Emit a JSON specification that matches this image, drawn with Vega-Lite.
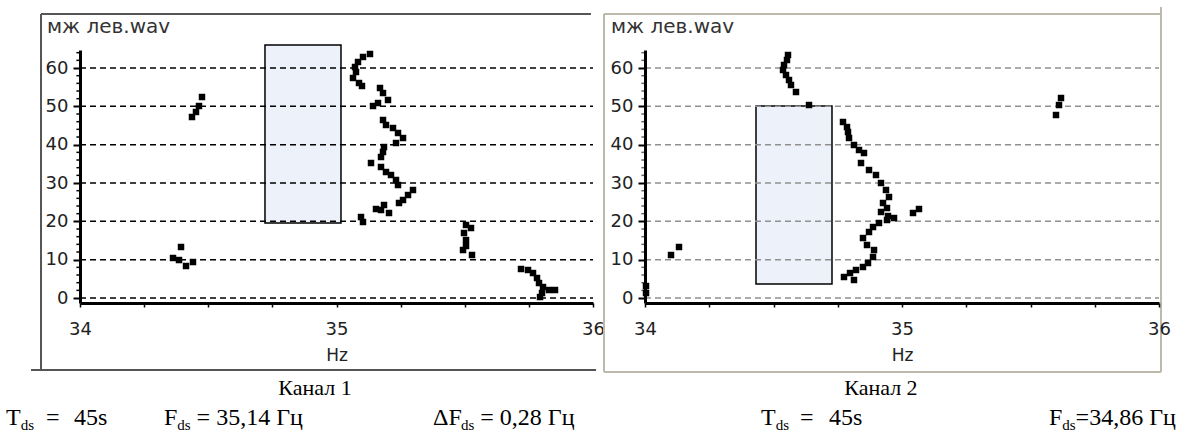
{
"$schema":"https://vega.github.io/schema/vega-lite/v6.json",
"background":"white",
"padding":{"left":5,"top":6,"right":5,"bottom":4},
"autosize":{"type":"pad"},
"bounds":"flush",
"spacing":52,
"config":{"view":{"stroke":null}},
"datasets":{
"ptsL":[{"x":35.1306,"y":63.66},{"x":35.1033,"y":62.88},{"x":35.0838,"y":61.57},{"x":35.0721,"y":60.27},{"x":35.076,"y":58.96},{"x":35.0643,"y":57.4},{"x":35.0877,"y":56.09},{"x":35.0994,"y":55.31},
{"x":35.1696,"y":54.79},{"x":35.1813,"y":53.48},{"x":35.2008,"y":51.66},{"x":35.1618,"y":50.87},{"x":35.1423,"y":50.09},
{"x":35.1813,"y":46.44},{"x":35.193,"y":45.14},{"x":35.2203,"y":44.35},{"x":35.2398,"y":43.05},{"x":35.2593,"y":41.74},{"x":35.232,"y":40.44},{"x":35.1852,"y":39.39},{"x":35.1813,"y":38.09},{"x":35.1735,"y":36.79},{"x":35.1345,"y":35.22},{"x":35.1735,"y":34.18},{"x":35.193,"y":32.87},{"x":35.2125,"y":32.09},{"x":35.232,"y":30.79},{"x":35.2398,"y":29.48},
{"x":35.2982,"y":28.18},{"x":35.2788,"y":26.87},{"x":35.2593,"y":25.57},{"x":35.2437,"y":24.79},{"x":35.1852,"y":24.26},{"x":35.1735,"y":22.96},{"x":35.154,"y":23.22},{"x":35.2047,"y":22.18},{"x":35.0955,"y":21.13},{"x":35.1033,"y":19.83},
{"x":34.4756,"y":52.44},{"x":34.4639,"y":50.09},{"x":34.4522,"y":48.53},{"x":34.4366,"y":47.22},
{"x":34.3938,"y":13.31},{"x":34.3626,"y":10.44},{"x":34.386,"y":9.91},{"x":34.4133,"y":8.35},{"x":34.4405,"y":9.39},
{"x":35.5049,"y":19.05},{"x":35.5244,"y":18.26},{"x":35.4971,"y":16.96},{"x":35.5049,"y":15.13},{"x":35.5049,"y":13.57},{"x":35.4932,"y":12.52},{"x":35.5283,"y":11.22},
{"x":35.7193,"y":7.57},{"x":35.7466,"y":7.31},{"x":35.7661,"y":6.52},{"x":35.7817,"y":5.22},{"x":35.7895,"y":3.91},{"x":35.8051,"y":2.87},{"x":35.8285,"y":2.09},{"x":35.8519,"y":2.09},{"x":35.8012,"y":1.3},{"x":35.7934,"y":0.26}],
"ptsR":[{"x":34.5564,"y":63.4},{"x":34.5525,"y":62.09},{"x":34.5409,"y":60.79},{"x":34.537,"y":59.48},{"x":34.5486,"y":58.18},{"x":34.5603,"y":56.87},{"x":34.5681,"y":55.57},{"x":34.5875,"y":53.74},{"x":34.6381,"y":50.35},
{"x":34.7704,"y":45.92},{"x":34.786,"y":44.61},{"x":34.7899,"y":43.31},{"x":34.7938,"y":41.74},{"x":34.8132,"y":39.92},{"x":34.8327,"y":38.61},{"x":34.8521,"y":37.83},{"x":34.8405,"y":35.22},{"x":34.8716,"y":33.39},{"x":34.8988,"y":32.09},{"x":34.9183,"y":30.0},{"x":34.9377,"y":28.18},{"x":34.9494,"y":26.35},{"x":34.9261,"y":24.79},{"x":34.9416,"y":23.48},{"x":34.9183,"y":22.44},{"x":34.9455,"y":21.39},{"x":34.9689,"y":20.87},
{"x":34.9416,"y":20.35},{"x":34.9105,"y":19.57},{"x":34.8872,"y":18.52},{"x":34.8716,"y":17.22},{"x":34.8482,"y":15.65},{"x":34.8638,"y":13.83},{"x":34.8911,"y":12.52},{"x":34.8872,"y":10.7},{"x":34.8677,"y":9.13},{"x":34.8482,"y":8.09},{"x":34.821,"y":7.31},{"x":34.7977,"y":6.52},{"x":34.7743,"y":5.48},{"x":34.8132,"y":4.7},
{"x":35.0661,"y":23.22},{"x":35.0428,"y":22.18},{"x":35.6187,"y":52.18},{"x":35.6109,"y":50.35},{"x":35.5992,"y":47.74},{"x":34.1012,"y":11.22},{"x":34.1323,"y":13.31},{"x":34.0039,"y":3.13},{"x":34.0039,"y":1.3}],
"gridY":[{"y":0},{"y":10},{"y":20},{"y":30},{"y":40},{"y":50},{"y":60}],
"minorY":[{"y":2},{"y":4},{"y":6},{"y":8},{"y":12},{"y":14},{"y":16},{"y":18},{"y":22},{"y":24},{"y":26},{"y":28},{"y":32},{"y":34},{"y":36},{"y":38},{"y":42},{"y":44},{"y":46},{"y":48},{"y":52},{"y":54},{"y":56},{"y":58},{"y":62},{"y":64}],
"frameL":[{"x1":33.848,"x2":35.992,"y1":74.09,"y2":74.09},{"x1":33.848,"x2":33.848,"y1":74.09,"y2":-18.78},{"x1":33.809,"x2":36.012,"y1":-18.78,"y2":-18.78}],
"frameR":[{"x1":33.8405,"x2":36.0078,"y1":74.09,"y2":74.09},{"x1":33.8405,"x2":33.8405,"y1":74.09,"y2":-19.31},{"x1":36.0078,"x2":36.0078,"y1":75.9,"y2":-19.31},{"x1":33.8405,"x2":36.0078,"y1":-19.31,"y2":-19.31}],
"rectL":[{"x1":34.7212,"x2":35.0175,"y1":19.57,"y2":66.0}],
"rectR":[{"x1":34.4319,"x2":34.7276,"y1":3.65,"y2":50.09}],
"ttlL":[{"x":33.8713,"y":69.1,"t":"мж лев.wav"}],
"ttlR":[{"x":33.8677,"y":69.1,"t":"мж лев.wav"}],
"txtL":[{"x":33.7115,"y":-33.1,"t":"T"},{"x":33.8675,"y":-33.1,"t":"="},{"x":33.9766,"y":-33.1,"t":"45s"},{"x":34.3275,"y":-33.1,"t":"F"},{"x":34.4546,"y":-33.1,"t":"= 35,14 Гц"},{"x":35.376,"y":-33.1,"t":"ΔF"},{"x":35.5606,"y":-33.1,"t":"= 0,28 Гц"}],
"subL":[{"x":33.7688,"y":-33.1,"t":"ds"},{"x":34.3793,"y":-33.1,"t":"ds"},{"x":35.4854,"y":-33.1,"t":"ds"}],
"capL":[{"x":34.916,"y":-25.3,"t":"Канал 1"}],
"txtR":[{"x":34.4514,"y":-33.1,"t":"T"},{"x":34.6031,"y":-33.1,"t":"="},{"x":34.7159,"y":-33.1,"t":"45s"},{"x":35.572,"y":-33.1,"t":"F"},{"x":35.6755,"y":-33.1,"t":"=34,86 Гц"}],
"subR":[{"x":34.5086,"y":-33.1,"t":"ds"},{"x":35.6237,"y":-33.1,"t":"ds"}],
"capR":[{"x":34.918,"y":-25.3,"t":"Канал 2"}]
},
"hconcat":[
{"width":513,"height":253,
"layer":[
{"data":{"name":"frameL"},"mark":{"type":"rule","color":"#555555","strokeWidth":2,"clip":false},
"encoding":{
"x":{"field":"x1","type":"quantitative","scale":{"domain":[34,36],"nice":false,"zero":false},
"axis":{"values":[34,34.25,34.5,34.75,35,35.25,35.5,35.75,36],"labelExpr":"datum.value % 1 == 0 ? format(datum.value, 'd') : ''","grid":false,"zindex":1,"domainColor":"#000000","domainWidth":3,"tickColor":"#000000","tickWidth":1.5,"tickSize":4,"labelFont":"DejaVu Sans","labelFontSize":18,"labelColor":"#222222","labelPadding":13,"labelFlush":false,"labelOverlap":false,"title":"Hz","titleFont":"DejaVu Sans","titleFontSize":17,"titleFontWeight":"normal","titleColor":"#222222","titlePadding":9}},
"x2":{"field":"x2"},
"y":{"field":"y1","type":"quantitative","scale":{"domain":[-1.3,64.7],"nice":false,"zero":false},
"axis":{"values":[0,10,20,30,40,50,60],"grid":false,"zindex":1,"domainColor":"#000000","domainWidth":3,"tickColor":"#000000","tickWidth":2,"tickSize":7,"labelFont":"DejaVu Sans","labelFontSize":18,"labelColor":"#222222","labelPadding":5,"title":null}},
"y2":{"field":"y2"}}},
{"mark":{"type":"rule","color":"#000000","strokeWidth":2.5,"clip":false},
"encoding":{"x":{"datum":36.012,"type":"quantitative","scale":{"domain":[34,36],"nice":false,"zero":false}},"y":{"datum":75.9,"type":"quantitative","scale":{"domain":[-1.3,64.7],"nice":false,"zero":false}},"y2":{"datum":-20.3}}},
{"data":{"name":"rectL"},"mark":{"type":"rect","fill":"#edf1fa","stroke":"#000000","strokeWidth":1.5,"clip":false},
"encoding":{"x":{"field":"x1","type":"quantitative","scale":{"domain":[34,36],"nice":false,"zero":false}},"x2":{"field":"x2"},"y":{"field":"y1","type":"quantitative","scale":{"domain":[-1.3,64.7],"nice":false,"zero":false}},"y2":{"field":"y2"}}},
{"data":{"name":"gridY"},"mark":{"type":"rule","color":"#000000","strokeWidth":1.5,"strokeDash":[6,4],"clip":false},
"encoding":{"x":{"datum":34,"type":"quantitative","scale":{"domain":[34,36],"nice":false,"zero":false}},"x2":{"datum":36},"y":{"field":"y","type":"quantitative","scale":{"domain":[-1.3,64.7],"nice":false,"zero":false}}}},
{"mark":{"type":"rule","color":"#000000","strokeWidth":1.5,"strokeDash":[6,4],"clip":false},
"encoding":{"x":{"datum":35,"type":"quantitative","scale":{"domain":[34,36],"nice":false,"zero":false}},"y":{"datum":-1.3,"type":"quantitative","scale":{"domain":[-1.3,64.7],"nice":false,"zero":false}},"y2":{"datum":64.7}}},
{"mark":{"type":"rule","color":"#777777","strokeWidth":2,"clip":false},
"encoding":{"x":{"datum":34,"type":"quantitative","scale":{"domain":[34,36],"nice":false,"zero":false}},"x2":{"datum":36},"y":{"datum":64.7,"type":"quantitative","scale":{"domain":[-1.3,64.7],"nice":false,"zero":false}}}},
{"mark":{"type":"rule","color":"#000000","strokeWidth":3,"clip":false},
"encoding":{"x":{"datum":36,"type":"quantitative","scale":{"domain":[34,36],"nice":false,"zero":false}},"y":{"datum":-1.3,"type":"quantitative","scale":{"domain":[-1.3,64.7],"nice":false,"zero":false}},"y2":{"datum":64.7}}},
{"data":{"name":"minorY"},"mark":{"type":"rule","color":"#000000","strokeWidth":1.5,"clip":false},
"encoding":{"x":{"datum":33.986,"type":"quantitative","scale":{"domain":[34,36],"nice":false,"zero":false}},"x2":{"datum":34},"y":{"field":"y","type":"quantitative","scale":{"domain":[-1.3,64.7],"nice":false,"zero":false}}}},
{"data":{"name":"ptsL"},"mark":{"type":"point","shape":"square","size":42,"filled":true,"color":"#000000","opacity":1,"clip":false},
"encoding":{"x":{"field":"x","type":"quantitative","scale":{"domain":[34,36],"nice":false,"zero":false}},"y":{"field":"y","type":"quantitative","scale":{"domain":[-1.3,64.7],"nice":false,"zero":false}}}},
{"data":{"name":"ttlL"},"mark":{"type":"text","font":"DejaVu Sans","fontSize":20,"color":"#333333","align":"left","baseline":"alphabetic","clip":false},
"encoding":{"x":{"field":"x","type":"quantitative","scale":{"domain":[34,36],"nice":false,"zero":false}},"y":{"field":"y","type":"quantitative","scale":{"domain":[-1.3,64.7],"nice":false,"zero":false}},"text":{"field":"t"}}},
{"data":{"name":"txtL"},"mark":{"type":"text","font":"Liberation Serif","fontSize":24,"color":"#000000","align":"left","baseline":"alphabetic","clip":false},
"encoding":{"x":{"field":"x","type":"quantitative","scale":{"domain":[34,36],"nice":false,"zero":false}},"y":{"field":"y","type":"quantitative","scale":{"domain":[-1.3,64.7],"nice":false,"zero":false}},"text":{"field":"t"}}},
{"data":{"name":"subL"},"mark":{"type":"text","font":"Liberation Serif","fontSize":15,"dy":5,"color":"#000000","align":"left","baseline":"alphabetic","clip":false},
"encoding":{"x":{"field":"x","type":"quantitative","scale":{"domain":[34,36],"nice":false,"zero":false}},"y":{"field":"y","type":"quantitative","scale":{"domain":[-1.3,64.7],"nice":false,"zero":false}},"text":{"field":"t"}}},
{"data":{"name":"capL"},"mark":{"type":"text","font":"Liberation Serif","fontSize":22,"color":"#000000","align":"center","baseline":"alphabetic","clip":false},
"encoding":{"x":{"field":"x","type":"quantitative","scale":{"domain":[34,36],"nice":false,"zero":false}},"y":{"field":"y","type":"quantitative","scale":{"domain":[-1.3,64.7],"nice":false,"zero":false}},"text":{"field":"t"}}}
]},
{"width":514,"height":253,
"layer":[
{"data":{"name":"frameR"},"mark":{"type":"rule","color":"#bdb9ab","strokeWidth":2,"clip":false},
"encoding":{
"x":{"field":"x1","type":"quantitative","scale":{"domain":[34,36],"nice":false,"zero":false},
"axis":{"values":[34,34.25,34.5,34.75,35,35.25,35.5,35.75,36],"labelExpr":"datum.value % 1 == 0 ? format(datum.value, 'd') : ''","grid":false,"zindex":1,"domainColor":"#000000","domainWidth":3,"tickColor":"#000000","tickWidth":1.5,"tickSize":4,"labelFont":"DejaVu Sans","labelFontSize":18,"labelColor":"#222222","labelPadding":13,"labelFlush":false,"labelOverlap":false,"title":"Hz","titleFont":"DejaVu Sans","titleFontSize":17,"titleFontWeight":"normal","titleColor":"#222222","titlePadding":9}},
"x2":{"field":"x2"},
"y":{"field":"y1","type":"quantitative","scale":{"domain":[-1.3,64.7],"nice":false,"zero":false},
"axis":{"values":[0,10,20,30,40,50,60],"grid":false,"zindex":1,"domainColor":"#000000","domainWidth":3,"tickColor":"#000000","tickWidth":2,"tickSize":7,"labelFont":"DejaVu Sans","labelFontSize":18,"labelColor":"#222222","labelPadding":5,"title":null}},
"y2":{"field":"y2"}}},
{"data":{"name":"rectR"},"mark":{"type":"rect","fill":"#edf1fa","stroke":"#000000","strokeWidth":1.5,"clip":false},
"encoding":{"x":{"field":"x1","type":"quantitative","scale":{"domain":[34,36],"nice":false,"zero":false}},"x2":{"field":"x2"},"y":{"field":"y1","type":"quantitative","scale":{"domain":[-1.3,64.7],"nice":false,"zero":false}},"y2":{"field":"y2"}}},
{"data":{"name":"gridY"},"mark":{"type":"rule","color":"#909090","strokeWidth":1.5,"strokeDash":[6,4],"clip":false},
"encoding":{"x":{"datum":34,"type":"quantitative","scale":{"domain":[34,36],"nice":false,"zero":false}},"x2":{"datum":36},"y":{"field":"y","type":"quantitative","scale":{"domain":[-1.3,64.7],"nice":false,"zero":false}}}},
{"mark":{"type":"rule","color":"#909090","strokeWidth":1.5,"strokeDash":[6,4],"clip":false},
"encoding":{"x":{"datum":35,"type":"quantitative","scale":{"domain":[34,36],"nice":false,"zero":false}},"y":{"datum":-1.3,"type":"quantitative","scale":{"domain":[-1.3,64.7],"nice":false,"zero":false}},"y2":{"datum":64.7}}},
{"mark":{"type":"rule","color":"#444444","strokeWidth":2,"clip":false},
"encoding":{"x":{"datum":34,"type":"quantitative","scale":{"domain":[34,36],"nice":false,"zero":false}},"x2":{"datum":36},"y":{"datum":64.7,"type":"quantitative","scale":{"domain":[-1.3,64.7],"nice":false,"zero":false}}}},
{"mark":{"type":"rule","color":"#444444","strokeWidth":2,"strokeDash":[6,4],"clip":false},
"encoding":{"x":{"datum":36,"type":"quantitative","scale":{"domain":[34,36],"nice":false,"zero":false}},"y":{"datum":-1.3,"type":"quantitative","scale":{"domain":[-1.3,64.7],"nice":false,"zero":false}},"y2":{"datum":64.7}}},
{"data":{"name":"minorY"},"mark":{"type":"rule","color":"#666666","strokeWidth":1.5,"clip":false},
"encoding":{"x":{"datum":33.986,"type":"quantitative","scale":{"domain":[34,36],"nice":false,"zero":false}},"x2":{"datum":34},"y":{"field":"y","type":"quantitative","scale":{"domain":[-1.3,64.7],"nice":false,"zero":false}}}},
{"data":{"name":"ptsR"},"mark":{"type":"point","shape":"square","size":42,"filled":true,"color":"#000000","opacity":1,"clip":false},
"encoding":{"x":{"field":"x","type":"quantitative","scale":{"domain":[34,36],"nice":false,"zero":false}},"y":{"field":"y","type":"quantitative","scale":{"domain":[-1.3,64.7],"nice":false,"zero":false}}}},
{"data":{"name":"ttlR"},"mark":{"type":"text","font":"DejaVu Sans","fontSize":20,"color":"#333333","align":"left","baseline":"alphabetic","clip":false},
"encoding":{"x":{"field":"x","type":"quantitative","scale":{"domain":[34,36],"nice":false,"zero":false}},"y":{"field":"y","type":"quantitative","scale":{"domain":[-1.3,64.7],"nice":false,"zero":false}},"text":{"field":"t"}}},
{"data":{"name":"txtR"},"mark":{"type":"text","font":"Liberation Serif","fontSize":24,"color":"#000000","align":"left","baseline":"alphabetic","clip":false},
"encoding":{"x":{"field":"x","type":"quantitative","scale":{"domain":[34,36],"nice":false,"zero":false}},"y":{"field":"y","type":"quantitative","scale":{"domain":[-1.3,64.7],"nice":false,"zero":false}},"text":{"field":"t"}}},
{"data":{"name":"subR"},"mark":{"type":"text","font":"Liberation Serif","fontSize":15,"dy":5,"color":"#000000","align":"left","baseline":"alphabetic","clip":false},
"encoding":{"x":{"field":"x","type":"quantitative","scale":{"domain":[34,36],"nice":false,"zero":false}},"y":{"field":"y","type":"quantitative","scale":{"domain":[-1.3,64.7],"nice":false,"zero":false}},"text":{"field":"t"}}},
{"data":{"name":"capR"},"mark":{"type":"text","font":"Liberation Serif","fontSize":22,"color":"#000000","align":"center","baseline":"alphabetic","clip":false},
"encoding":{"x":{"field":"x","type":"quantitative","scale":{"domain":[34,36],"nice":false,"zero":false}},"y":{"field":"y","type":"quantitative","scale":{"domain":[-1.3,64.7],"nice":false,"zero":false}},"text":{"field":"t"}}}
]}
]
}
